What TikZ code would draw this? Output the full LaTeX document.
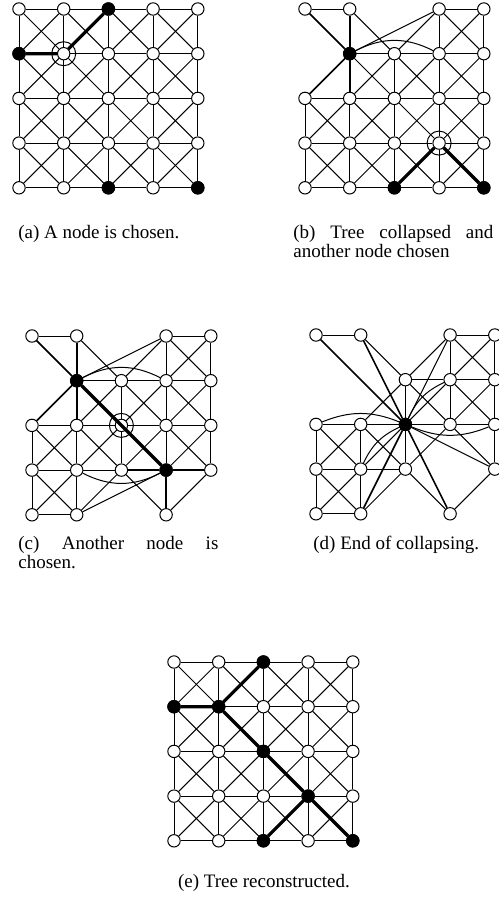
\documentclass[tikz,border=0pt]{standalone}
\usepackage{fontspec}
\setmainfont{Liberation Serif}
\usetikzlibrary{calc}

\newif\ifkeep
% vertices of one panel: prefix, x0, y0, removed ones (10*col+row)
\newcommand{\kgrid}[4]{%
  \foreach \i in {0,...,4}{%
    \foreach \j in {0,...,4}{%
      \global\keeptrue
      \foreach \s in {#4}{\ifnum\s=\numexpr10*\i+\j\relax\global\keepfalse\fi}%
      \ifkeep\node[vtx] (#1-\i-\j) at ({#2+44.7*\i},{#3+44.7*\j}) {};\fi
    }}}
% link two vertices if both are still there
\newcommand{\klink}[2]{%
  \ifcsname pgf@sh@ns@#1\endcsname\ifcsname pgf@sh@ns@#2\endcsname
    \draw[link] (#1) -- (#2);\fi\fi}
\newcommand{\kedges}[1]{%
  \foreach \i in {0,...,4}{%
    \foreach \j in {0,...,4}{%
      \pgfmathtruncatemacro{\ip}{\i+1}%
      \pgfmathtruncatemacro{\jp}{\j+1}%
      \pgfmathtruncatemacro{\jm}{\j-1}%
      \klink{#1-\i-\j}{#1-\ip-\j}%
      \klink{#1-\i-\j}{#1-\i-\jp}%
      \klink{#1-\i-\j}{#1-\ip-\jp}%
      \klink{#1-\i-\j}{#1-\ip-\jm}%
    }}}

\begin{document}
\begin{tikzpicture}[x=0.5pt, y=-0.5pt,
  vtx/.style={circle, draw, fill=white, line width=0.5pt, inner sep=0pt, minimum size=6.2pt},
  term/.style={vtx, fill=black},
  ring/.style={circle, draw, line width=0.5pt, inner sep=0pt, minimum size=12pt},
  link/.style={line width=0.5pt},
  multi/.style={line width=0.8pt},
  treeline/.style={line width=1.6pt},
  subcap/.style={inner sep=0pt, text width=100pt, align=justify,
                 font=\fontsize{9.5}{8.5}\selectfont}]
\useasboundingbox (0,0) rectangle (498,910);

% (a) a node is chosen
\kgrid{a}{19}{9}{-1}
\foreach \v in {2-0,0-1,2-4,4-4} \node[term] (a-\v) at (a-\v) {};
\kedges{a}
\draw[treeline] (a-0-1) -- (a-1-1) -- (a-2-0);
\node[ring] (a-pick) at (a-1-1) {};
\node[subcap, anchor=base west] (a-cap) at (18,238) {(a) A node is chosen.};

% (b) tree collapsed
\kgrid{b}{305}{9}{-1,20,1}
\foreach \v in {1-1,2-4,4-4} \node[term] (b-\v) at (b-\v) {};
\kedges{b}
\draw[link] (b-1-1) -- (b-3-0);
\draw[link] (b-1-1) to[bend left=27] (b-3-1);
\foreach \v in {0-0,1-0,0-2,1-2} \draw[multi] (b-1-1) -- (b-\v);
\draw[treeline] (b-2-4) -- (b-3-3) -- (b-4-4);
\node[ring] (b-pick) at (b-3-3) {};
\node[subcap, anchor=base west] (b-cap) at (293,238)
  {(b) Tree collapsed and\linebreak another node chosen};

% (c) another node
\kgrid{c}{32}{336}{-1,20,1,24,44}
\foreach \v in {1-1,3-3} \node[term] (c-\v) at (c-\v) {};
\kedges{c}
\draw[link] (c-1-1) -- (c-3-0);
\draw[link] (c-1-1) to[bend left=27] (c-3-1);
\draw[link] (c-1-3) to[bend right=27] (c-3-3);
\draw[link] (c-3-3) -- (c-1-4);
\foreach \v in {0-0,1-0,0-2,1-2} \draw[multi] (c-1-1) -- (c-\v);
\foreach \v in {2-3,4-3,3-4} \draw[multi] (c-3-3) -- (c-\v);
\draw[treeline] (c-1-1) -- (c-3-3);
\node[ring] (c-pick) at (c-2-2) {};
\node[subcap, anchor=base west] (c-cap) at (18,549)
  {(c) Another node is\linebreak chosen.};

% (d) end of collapsing
\kgrid{d}{316}{335}{-1,20,1,24,44,11,33}
\node[term] (d-2-2) at (d-2-2) {};
\kedges{d}
\foreach \v in {0-0,1-0,1-4,3-4} \draw[multi] (d-2-2) -- (d-\v);
\foreach \v in {3-0,4-3} \draw[link] (d-2-2) -- (d-\v);
\draw[link] (d-2-2) to[bend right=22] (d-0-2);
\draw[link] (d-2-2) to[bend right=22] (d-4-2);
\draw[link] (d-2-2) to[bend left=20] (d-3-1);
\draw[link] (d-2-2) to[bend right=20] (d-1-3);
\node[subcap, anchor=base west] (d-cap) at (313,549) {(d) End of collapsing.};

% (e) tree reconstructed
\kgrid{e}{174}{662}{-1}
\foreach \v in {2-0,0-1,1-1,2-2,3-3,2-4,4-4} \node[term] (e-\v) at (e-\v) {};
\kedges{e}
\draw[treeline] (e-0-1) -- (e-1-1) -- (e-2-0);
\draw[treeline] (e-1-1) -- (e-2-2) -- (e-3-3) -- (e-4-4);
\draw[treeline] (e-3-3) -- (e-2-4);
\node[anchor=base, inner sep=0pt, font=\fontsize{9.5}{8.5}\selectfont] (e-cap)
  at (264,887) {(e) Tree reconstructed.};
\end{tikzpicture}
\end{document}
